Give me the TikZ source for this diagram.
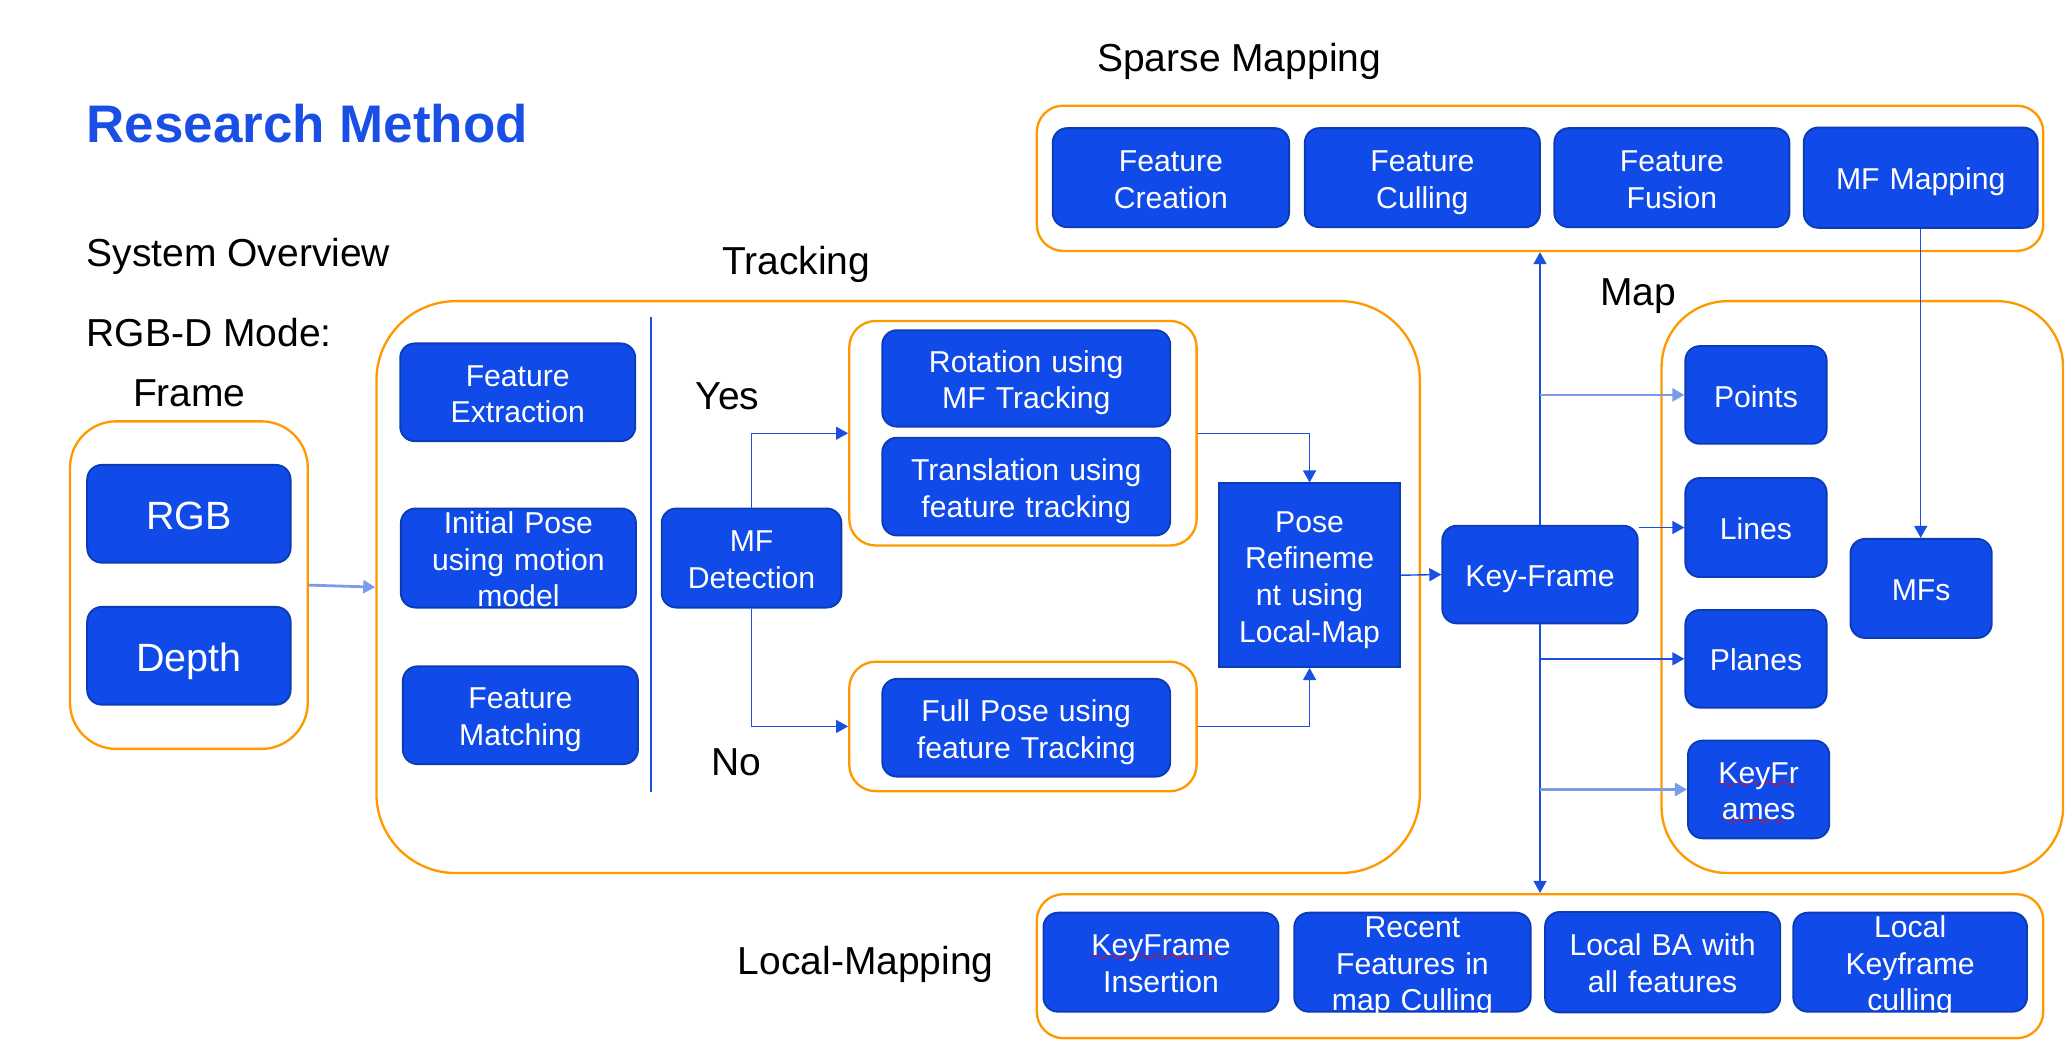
\documentclass[tikz,border=0pt]{standalone}
\usepackage{fontspec}
\setmainfont{Liberation Sans}
\usetikzlibrary{arrows.meta,positioning}

\definecolor{boxblue}{HTML}{104AE8}
\definecolor{boxedge}{HTML}{0B3BB5}
\definecolor{grporange}{HTML}{FF9900}
\definecolor{linkblue}{HTML}{1A4FE0}
\definecolor{linklight}{HTML}{7C9CEA}
\definecolor{titleblue}{HTML}{1A4FE6}

\font\wavyfont=lasy6 at 4pt
\newcommand\spellmark[1]{\setbox0\hbox{#1}\leavevmode
  \rlap{\smash{\lower1.2pt\hbox to\wd0{\color{red}\leaders\hbox{\wavyfont\char58}\hfil}}}\box0}
\newcommand\topstrut{\rule[-0.212em]{0pt}{\dimexpr1.117em+0.7pt\relax}}
\newcommand\botstrut{\rule[-0.212em]{0pt}{1.117em}}

\begin{document}
\begin{tikzpicture}[x=0.1mm,y=-0.1mm,>={Triangle[length=2.6pt,width=2.8pt]},node distance=0.95mm,
  blk/.style={draw=boxedge,line width=0.4pt,fill=boxblue,rounded corners=1.1mm,text=white,align=center,
    inner sep=0pt,minimum width=17.8mm,minimum height=7.4mm,text width=17mm,font=\fontsize{6.5}{7.9}\selectfont,
    execute at begin node=\topstrut,execute at end node=\botstrut},
  tall/.style={text height=5.33pt,text depth=15.93pt},
  grp/.style={draw=grporange,line width=0.5pt,rounded corners=#1,inner sep=0pt},
  grp/.default=2mm,
  lbl/.style={anchor=base west,inner sep=0pt,font=\fontsize{8.4}{10}\selectfont},
  link/.style={draw=linkblue,line width=0.3pt},
  linklt/.style={draw=linklight,line width=0.6pt}]
\useasboundingbox (0,0) rectangle (1568,790);

% titles
\node[lbl,text=titleblue,font=\fontsize{11.4}{13}\selectfont\bfseries] (title) at (65,108) {Research Method};
\node[lbl] (sysov) at (65,202) {System Overview};
\node[lbl] (mode) at (65,262) {RGB-D Mode:};
\node[lbl] (framelbl) at (100,308) {Frame};
\node[lbl] (tracklbl) at (546,208) {Tracking};
\node[lbl] (sparselbl) at (830,54) {Sparse Mapping};
\node[lbl] (maplbl) at (1211,231) {Map};
\node[lbl] (localbl) at (558,738) {Local-Mapping};
\node[lbl] (yes) at (526,310) {Yes};
\node[lbl] (no) at (538,587) {No};

% groups
\node[grp=3.5mm,minimum width=18mm,minimum height=24.8mm] (frame) at (143,443) {};
\node[grp=6mm,minimum width=79mm,minimum height=43.3mm] (track) at (680,444.5) {};
\node[grp,minimum width=26.3mm,minimum height=17mm] (yesgrp) at (774.5,328) {};
\node[grp,minimum width=26.3mm,minimum height=9.8mm] (nogrp) at (774.5,550) {};
\node[grp=5mm,minimum width=30.4mm,minimum height=43.3mm] (mapgrp) at (1410,444.5) {};
\node[grp,minimum width=76.2mm,minimum height=11mm] (sparse) at (1166,135) {};
\node[grp,minimum width=76.2mm,minimum height=10.9mm] (local) at (1166,731.5) {};
\draw[linkblue,line width=0.3pt] (493,240) -- (493,600);

% frame
\node[blk,minimum width=15.4mm,text width=15mm,font=\fontsize{8.5}{10}\selectfont] (rgb) at (143,389) {RGB};
\node[blk,minimum width=15.4mm,text width=15mm,font=\fontsize{8.5}{10}\selectfont] (depth) at (143,496.5) {Depth};

% tracking
\node[blk] (fext) at (392,297) {Feature\\Extraction};
\node[blk,tall,minimum height=7.5mm] (ipose) at (392.5,422.5) {Initial Pose\\using motion\\model};
\node[blk] (fmatch) at (394,541.5) {Feature\\Matching};
\node[blk,minimum width=13.6mm,text width=13mm,minimum height=7.5mm] (mfdet) at (569,422.5) {MF\\Detection};
\node[blk,minimum width=21.8mm,text width=21mm,minimum height=7.3mm] (rot) at (777,286.5) {Rotation using\\MF Tracking};
\node[blk,minimum width=21.8mm,text width=21mm,below=0.7mm of rot] (trans) {Translation using\\feature tracking};
\node[blk,minimum width=21.8mm,text width=21mm] (full) at (777,551) {Full Pose using\\feature Tracking};
\node[blk,rounded corners=0pt,minimum width=13.7mm,text width=13mm,minimum height=13.9mm] (pose) at (991.5,435.5) {Pose\\Refineme\\nt using\\Local-Map};
\node[blk,minimum width=14.8mm,text width=14mm] (kf) at (1166,435) {Key-Frame};

% map
\node[blk,minimum width=10.7mm,text width=10.4mm] (points) at (1329.5,299) {Points};
\node[blk,minimum width=10.7mm,text width=10.4mm,minimum height=7.5mm,below=2.45mm of points] (lines) {Lines};
\node[blk,minimum width=10.7mm,text width=10.4mm,below=2.35mm of lines] (planes) {Planes};
\node[blk,minimum width=10.7mm,text width=10.4mm,below=2.35mm of planes,xshift=0.2mm] (kfs) {\spellmark{KeyFr}\\\spellmark{ames}};
\node[blk,minimum width=10.7mm,text width=10.4mm,minimum height=7.5mm] (mfs) at (1454.5,445.5) {MFs};

% sparse mapping
\node[blk,minimum width=17.9mm,minimum height=7.5mm] (fcre) at (886.5,134.5) {Feature\\Creation};
\node[blk,minimum height=7.5mm,right=1.05mm of fcre] (fcul) {Feature\\Culling};
\node[blk,minimum height=7.5mm,right=of fcul] (ffus) {Feature\\Fusion};
\node[blk,minimum width=17.7mm,minimum height=7.6mm,right=of ffus] (mfmap) {MF Mapping};

% local mapping
\node[blk,minimum height=7.5mm] (kfins) at (879,728.5) {\spellmark{KeyFrame}\\Insertion};
\node[blk,tall,minimum width=17.9mm,minimum height=7.5mm,right=1.05mm of kfins] (rfc) {Recent\\Features in\\map Culling};
\node[blk,minimum height=7.6mm,right=of rfc] (lba) {Local BA with\\all features};
\node[blk,tall,minimum width=17.7mm,minimum height=7.5mm,right=0.85mm of lba] (lkc) {Local\\Keyframe\\culling};

% connectors
\draw[linklt,->] (frame.east) -- (track.west);
\draw[link,->] (mfdet.north) |- (yesgrp.west);
\draw[link,->] (mfdet.south) |- (nogrp.west);
\draw[link,->] (yesgrp.east) -| (pose.north);
\draw[link,->] (nogrp.east) -| (pose.south);
\draw[link,->] (pose.east) -- (kf.west);
\draw[link,->] (kf.north) -- (sparse.south);
\draw[link,->] (kf.south) -- (local.north);
\draw[linklt,->] (kf.center |- points.west) -- (points.west);
\draw[link,->] (kf.east |- lines.west) -- (lines.west);
\draw[link,->] (kf.center |- planes.west) -- (planes.west);
\draw[linklt,->] (kf.center |- kfs.west) -- (kfs.west);
\draw[link,->] (mfmap.south) -- (mfmap.south |- mfs.north);
\end{tikzpicture}
\end{document}
